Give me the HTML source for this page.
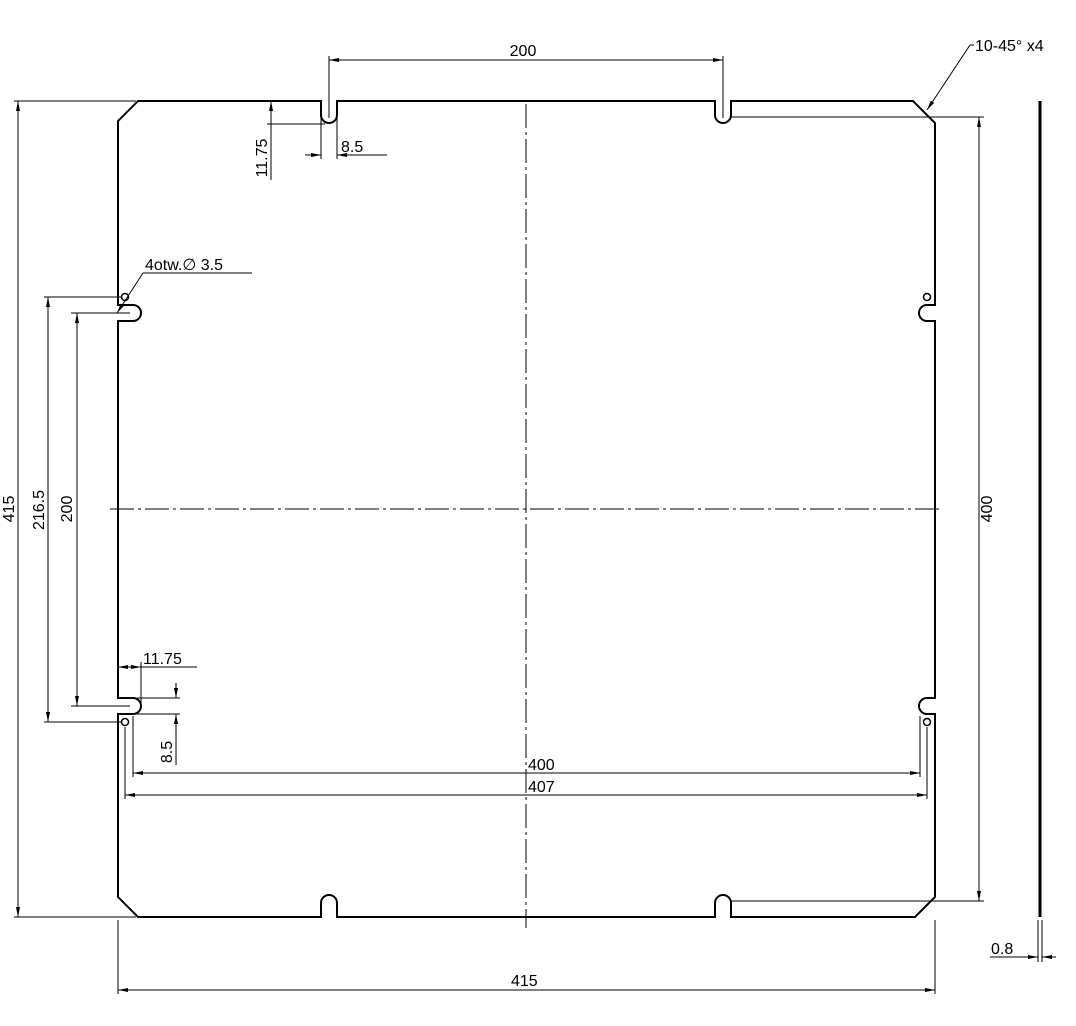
<!DOCTYPE html>
<html><head><meta charset="utf-8"><style>body{margin:0;background:#fff}svg{display:block}text{font-family:"Liberation Sans",sans-serif;font-size:16px;fill:#000}</style></head><body>
<svg width="1076" height="1026" viewBox="0 0 1076 1026" xmlns="http://www.w3.org/2000/svg">
<defs><marker id="a" viewBox="0 0 10 4" refX="10" refY="2" markerWidth="10" markerHeight="4" orient="auto-start-reverse" markerUnits="userSpaceOnUse"><path d="M0,0L10,2L0,4z" fill="#000"/></marker></defs>
<path fill="none" stroke="#000" stroke-width="2" d="M138,101 H321 V115 A8,8 0 0 0 337,115 V101 H715 V115 A8,8 0 0 0 731,115 V101 H913 L935,123 V305 H927 A8,8 0 0 0 927,321 H935 V698 H927 A8,8 0 0 0 927,714 H935 V897 L915,917 H731 V903 A8,8 0 0 0 715,903 V917 H337 V903 A8,8 0 0 0 321,903 V917 H138 L118,897 V714 H133 A8,8 0 0 0 133,698 H118 V321 H133 A8,8 0 0 0 133,305 H118 V121 Z"/>
<g fill="none" stroke="#000" stroke-width="1.5"><circle cx="125" cy="297" r="3.5"/><circle cx="125" cy="722" r="3.5"/><circle cx="927" cy="297" r="3.5"/><circle cx="927" cy="722" r="3.5"/></g>
<g stroke="#000" stroke-width="1" stroke-dasharray="24,4,3,4"><line x1="526" y1="104" x2="526" y2="928"/><line x1="110" y1="509" x2="943" y2="509"/></g>
<line x1="1040" y1="101" x2="1040" y2="917" stroke="#000" stroke-width="3"/>
<g stroke="#000" stroke-width="1" fill="none">
<line x1="329" y1="56" x2="329" y2="118"/><line x1="723" y1="56" x2="723" y2="118"/>
<line x1="329" y1="60" x2="723" y2="60" marker-start="url(#a)" marker-end="url(#a)"/>
<line x1="14" y1="101" x2="136" y2="101"/><line x1="14" y1="917" x2="136" y2="917"/>
<line x1="18" y1="101" x2="18" y2="917" marker-start="url(#a)" marker-end="url(#a)"/>
<line x1="44" y1="297" x2="122" y2="297"/><line x1="44" y1="722" x2="122" y2="722"/>
<line x1="48" y1="297" x2="48" y2="722" marker-start="url(#a)" marker-end="url(#a)"/>
<line x1="71" y1="313" x2="130" y2="313"/><line x1="71" y1="706" x2="130" y2="706"/>
<line x1="77" y1="313" x2="77" y2="706" marker-start="url(#a)" marker-end="url(#a)"/>
<line x1="731" y1="117" x2="984" y2="117"/><line x1="731" y1="901" x2="984" y2="901"/>
<line x1="979" y1="117" x2="979" y2="901" marker-start="url(#a)" marker-end="url(#a)"/>
<line x1="118" y1="920" x2="118" y2="994"/><line x1="935" y1="920" x2="935" y2="994"/>
<line x1="118" y1="990" x2="935" y2="990" marker-start="url(#a)" marker-end="url(#a)"/>
<line x1="133" y1="716" x2="133" y2="777"/><line x1="920" y1="716" x2="920" y2="777"/>
<line x1="133" y1="773" x2="920" y2="773" marker-start="url(#a)" marker-end="url(#a)"/>
<line x1="125" y1="727" x2="125" y2="799"/><line x1="927" y1="727" x2="927" y2="799"/>
<line x1="125" y1="795" x2="927" y2="795" marker-start="url(#a)" marker-end="url(#a)"/>
<line x1="267" y1="124" x2="325" y2="124"/>
<line x1="271" y1="101" x2="271" y2="124" marker-start="url(#a)"/>
<line x1="271" y1="124" x2="271" y2="180"/>
<line x1="321" y1="118" x2="321" y2="159"/><line x1="337" y1="118" x2="337" y2="159"/>
<line x1="305" y1="155" x2="321" y2="155" marker-end="url(#a)"/><line x1="387" y1="155" x2="337" y2="155" marker-end="url(#a)"/>
<line x1="141" y1="662" x2="141" y2="708"/>
<line x1="118" y1="667" x2="141" y2="667" marker-start="url(#a)" marker-end="url(#a)"/>
<line x1="141" y1="667" x2="197" y2="667"/>
<line x1="137" y1="698" x2="180" y2="698"/><line x1="137" y1="714" x2="180" y2="714"/>
<line x1="176" y1="683" x2="176" y2="698" marker-end="url(#a)"/><line x1="176" y1="765" x2="176" y2="714" marker-end="url(#a)"/>
<line x1="143" y1="273" x2="252" y2="273"/><line x1="143" y1="273" x2="117" y2="313" marker-end="url(#a)"/>
<line x1="970" y1="45" x2="927" y2="110" marker-end="url(#a)"/><line x1="970" y1="45" x2="974" y2="45"/>
<line x1="1038" y1="920" x2="1038" y2="962"/><line x1="1042" y1="920" x2="1042" y2="962"/>
<line x1="990" y1="957" x2="1038" y2="957" marker-end="url(#a)"/><line x1="1056" y1="957" x2="1042" y2="957" marker-end="url(#a)"/>
</g>
<text x="523" y="56" text-anchor="middle">200</text>
<text x="975" y="51">10-45° x4</text>
<text x="145" y="270">4otw.∅ 3.5</text>
<text x="341" y="152">8.5</text>
<text x="143" y="664">11.75</text>
<text x="528" y="770">400</text>
<text x="528" y="792">407</text>
<text x="511" y="986">415</text>
<text x="991" y="954">0.8</text>
<text transform="translate(14,509) rotate(-90)" text-anchor="middle">415</text>
<text transform="translate(44,510) rotate(-90)" text-anchor="middle">216.5</text>
<text transform="translate(72,509) rotate(-90)" text-anchor="middle">200</text>
<text transform="translate(992,509) rotate(-90)" text-anchor="middle">400</text>
<text transform="translate(267,158) rotate(-90)" text-anchor="middle">11.75</text>
<text transform="translate(172,752) rotate(-90)" text-anchor="middle">8.5</text>
</svg>
</body></html>
